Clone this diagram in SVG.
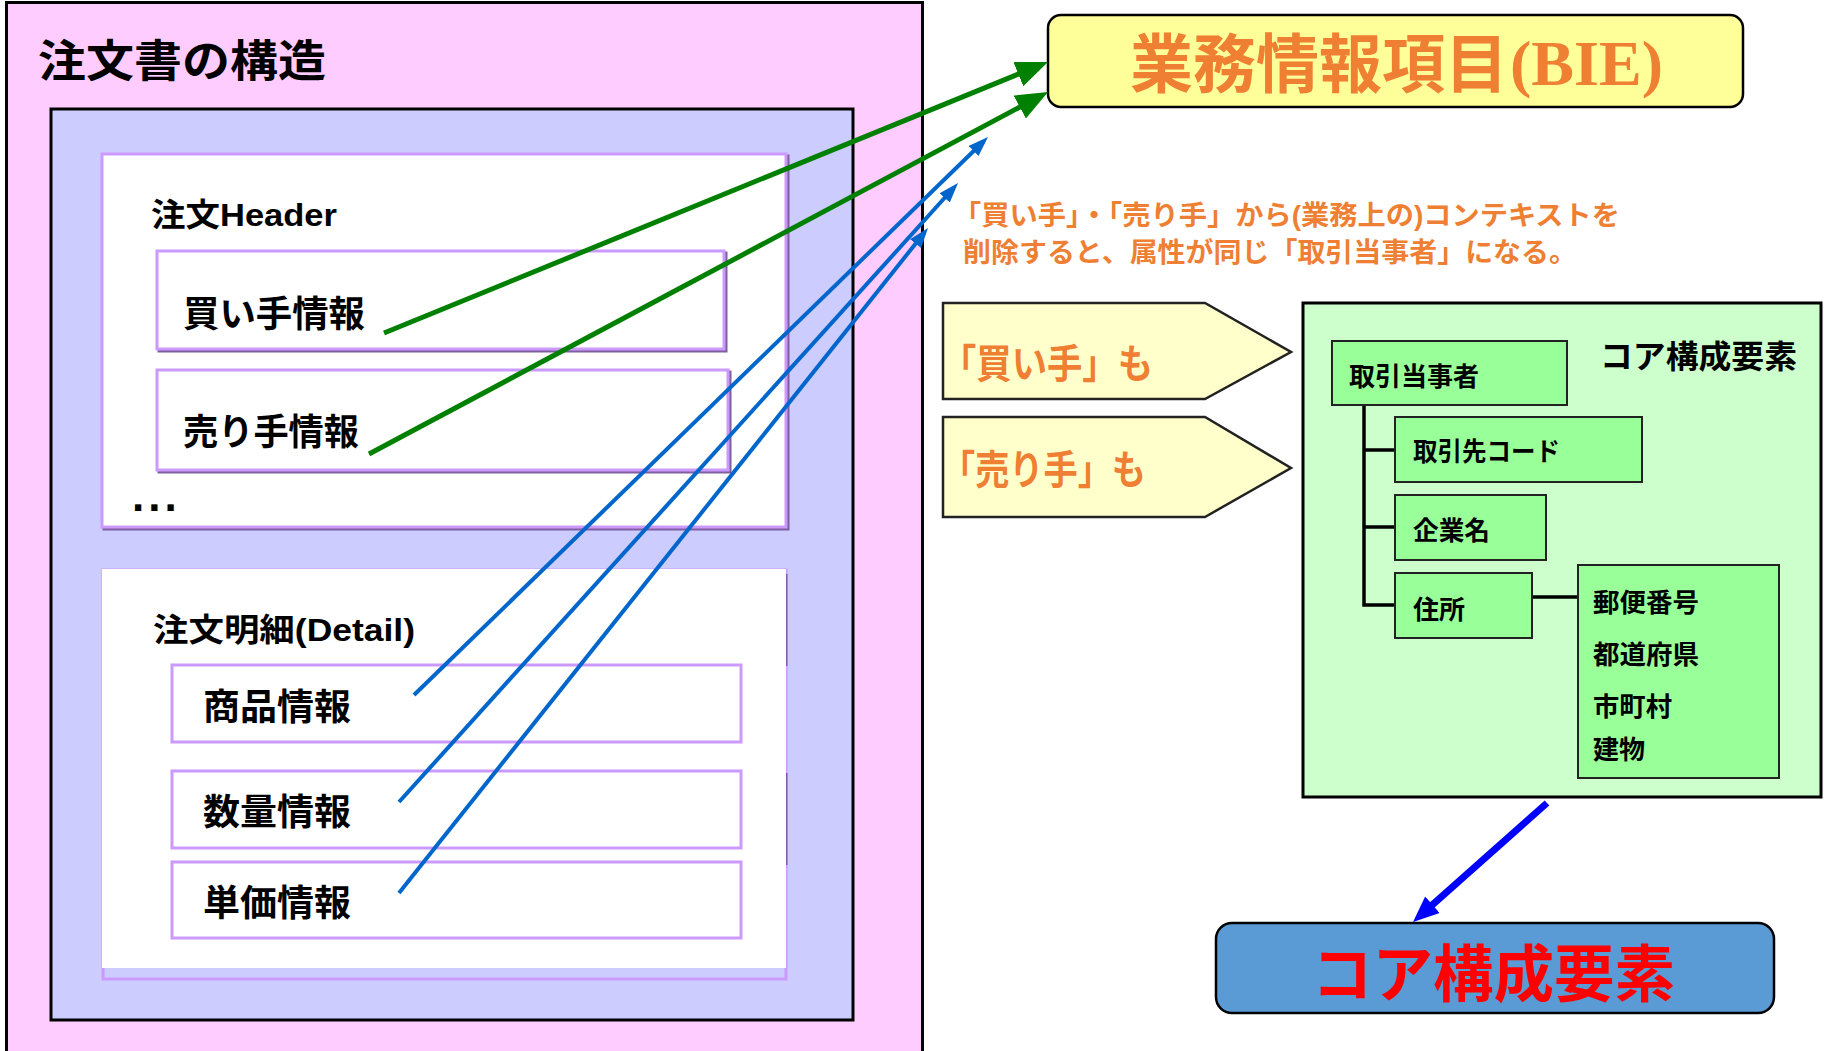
<svg xmlns="http://www.w3.org/2000/svg" width="1824" height="1051" viewBox="0 0 1824 1051">
<defs>
<style>
.t{font-family:"Liberation Sans","Noto Sans CJK JP",sans-serif;font-weight:bold;fill:#000}
.o{fill:#EE7F33}
.pb{fill:#fff;stroke:#CC99FF;stroke-width:3}
.sh{fill:none;stroke:#7F5F9F;stroke-width:3}
.gb{fill:#99FF99;stroke:#222;stroke-width:2}
.g{fill:none;stroke:#008000;stroke-width:5}
.b{fill:none;stroke:#0066CC;stroke-width:4}
</style>
<marker id="ag" markerUnits="userSpaceOnUse" markerWidth="34" markerHeight="28" refX="22" refY="13" orient="auto"><path d="M0,0 L32,13 L0,26 Z" fill="#008000"/></marker>
<marker id="ab" markerUnits="userSpaceOnUse" markerWidth="22" markerHeight="16" refX="14" refY="7" orient="auto"><path d="M0,0 L20,7 L0,14 Z" fill="#0066CC"/></marker>
<marker id="abb" markerUnits="userSpaceOnUse" markerWidth="28" markerHeight="24" refX="16" refY="11" orient="auto"><path d="M0,0 L26,11 L0,22 Z" fill="#0000FF"/></marker>
</defs>
<rect width="1824" height="1051" fill="#fff"/>
<g id="order-structure">
<rect x="6.5" y="2.5" width="916" height="1070" fill="#FFCCFF" stroke="#000" stroke-width="3"/>
<text class="t" x="38" y="77" font-size="44" textLength="288" lengthAdjust="spacingAndGlyphs">注文書の構造</text>
</g>
<g id="order-body">
<rect x="51" y="109" width="802" height="911" fill="#CCCCFF" stroke="#000" stroke-width="3"/>
</g>
<g id="header">
<rect x="104" y="156" width="684" height="373" class="sh"/>
<rect x="102" y="154" width="684" height="373" class="pb"/>
<text class="t" x="151" y="226" font-size="32" textLength="186" lengthAdjust="spacingAndGlyphs">注文Header</text>
<text class="t" x="132" y="511" font-size="44" letter-spacing="4">...</text>
</g>
<g id="buyer">
<rect x="159" y="253" width="567" height="98" class="sh"/>
<rect x="157" y="251" width="567" height="98" class="pb"/>
<text class="t" x="183" y="327" font-size="36" textLength="182" lengthAdjust="spacingAndGlyphs">買い手情報</text>
</g>
<g id="seller">
<rect x="159" y="372" width="571" height="100" class="sh"/>
<rect x="157" y="370" width="571" height="100" class="pb"/>
<text class="t" x="183" y="445" font-size="36" textLength="176" lengthAdjust="spacingAndGlyphs">売り手情報</text>
</g>
<g id="detail">
<rect x="103" y="570" width="683" height="409" fill="none" stroke="#CC99FF" stroke-width="3"/>
<line x1="786" y1="574" x2="786" y2="666" stroke="#7F5F9F" stroke-width="3"/>
<line x1="786" y1="773" x2="786" y2="865" stroke="#7F5F9F" stroke-width="3"/>
<rect x="102" y="569" width="684" height="399" fill="#fff"/>
<text class="t" x="153" y="641" font-size="32" textLength="262" lengthAdjust="spacingAndGlyphs">注文明細(Detail)</text>
</g>
<g id="product">
<rect x="172" y="665" width="569" height="77" class="pb"/>
<text class="t" x="203" y="720" font-size="36" textLength="148" lengthAdjust="spacingAndGlyphs">商品情報</text>
</g>
<g id="quantity">
<rect x="172" y="771" width="569" height="77" class="pb"/>
<text class="t" x="203" y="825" font-size="36" textLength="148" lengthAdjust="spacingAndGlyphs">数量情報</text>
</g>
<g id="price">
<rect x="172" y="862" width="569" height="76" class="pb"/>
<text class="t" x="203" y="916" font-size="36" textLength="148" lengthAdjust="spacingAndGlyphs">単価情報</text>
</g>
<g id="bie">
<rect x="1048" y="15" width="695" height="92" rx="13" fill="#FFFF99" stroke="#000" stroke-width="2.5"/>
<text class="t o" x="1130" y="87" font-size="64" textLength="378" lengthAdjust="spacingAndGlyphs">業務情報項目</text>
<text x="1510" y="85" font-size="64" font-family="Liberation Serif, serif" font-weight="bold" fill="#EE7F33" textLength="153" lengthAdjust="spacingAndGlyphs">(BIE)</text>
</g>
<g id="note">
<text class="t o" x="953" y="225" font-size="27" textLength="667" lengthAdjust="spacingAndGlyphs">「買い手」・「売り手」から(業務上の)コンテキストを</text>
<text class="t o" x="963" y="262" font-size="27" textLength="614" lengthAdjust="spacingAndGlyphs">削除すると、属性が同じ「取引当事者」になる。</text>
</g>
<g id="buyer-too">
<polygon points="943,303 1205,303 1291,352 1205,399 943,399" fill="#FFFFCC" stroke="#222" stroke-width="2.5"/>
<text class="t o" x="941" y="378" font-size="40" textLength="212" lengthAdjust="spacingAndGlyphs">「買い手」も</text>
</g>
<g id="seller-too">
<polygon points="943,417 1205,417 1291,468 1205,517 943,517" fill="#FFFFCC" stroke="#222" stroke-width="2.5"/>
<text class="t o" x="941" y="484" font-size="40" textLength="205" lengthAdjust="spacingAndGlyphs">「売り手」も</text>
</g>
<g id="core-panel">
<rect x="1303" y="303" width="518" height="494" fill="#CCFFCC" stroke="#000" stroke-width="3"/>
<text class="t" x="1600" y="368" font-size="32" textLength="197" lengthAdjust="spacingAndGlyphs">コア構成要素</text>
</g>
<g id="tree-lines" stroke="#000" stroke-width="3.5" fill="none">
<path d="M1364,405 V605 H1395 M1364,450 H1395 M1364,527 H1395 M1532,597 H1578"/>
</g>
<g id="party">
<rect x="1332" y="341" width="235" height="64" class="gb"/>
<text class="t" x="1349" y="386" font-size="26" textLength="130" lengthAdjust="spacingAndGlyphs">取引当事者</text>
</g>
<g id="partner-code">
<rect x="1395" y="417" width="247" height="65" class="gb"/>
<text class="t" x="1413" y="461" font-size="26" textLength="147" lengthAdjust="spacingAndGlyphs">取引先コード</text>
</g>
<g id="company">
<rect x="1395" y="495" width="151" height="65" class="gb"/>
<text class="t" x="1413" y="540" font-size="26" textLength="77" lengthAdjust="spacingAndGlyphs">企業名</text>
</g>
<g id="address">
<rect x="1395" y="573" width="137" height="65" class="gb"/>
<text class="t" x="1413" y="619" font-size="26" textLength="52" lengthAdjust="spacingAndGlyphs">住所</text>
</g>
<g id="address-detail">
<rect x="1578" y="565" width="201" height="213" class="gb"/>
<text class="t" x="1593" y="612" font-size="26" textLength="106" lengthAdjust="spacingAndGlyphs">郵便番号</text>
<text class="t" x="1593" y="664" font-size="26" textLength="106" lengthAdjust="spacingAndGlyphs">都道府県</text>
<text class="t" x="1593" y="716" font-size="26" textLength="79" lengthAdjust="spacingAndGlyphs">市町村</text>
<text class="t" x="1593" y="759" font-size="26" textLength="52" lengthAdjust="spacingAndGlyphs">建物</text>
</g>
<g id="core">
<rect x="1216" y="923" width="558" height="90" rx="16" fill="#5B9BD5" stroke="#000" stroke-width="2.5"/>
<text class="t" x="1312" y="997" font-size="62" style="fill:#FF0000" textLength="363" lengthAdjust="spacingAndGlyphs">コア構成要素</text>
</g>
<g id="connectors">
<line class="g" x1="384" y1="333" x2="1038.7" y2="65.8" marker-end="url(#ag)"/>
<line class="g" x1="369" y1="454" x2="1039.2" y2="96.7" marker-end="url(#ag)"/>
<line class="b" x1="414" y1="695" x2="983.7" y2="141.2" marker-end="url(#ab)"/>
<line class="b" x1="399" y1="802" x2="954" y2="187.5" marker-end="url(#ab)"/>
<line class="b" x1="399" y1="893" x2="924.3" y2="232.7" marker-end="url(#ab)"/>
<line x1="1547" y1="803" x2="1420.5" y2="915.4" stroke="#0000FF" stroke-width="7" marker-end="url(#abb)"/>
</g>
</svg>
